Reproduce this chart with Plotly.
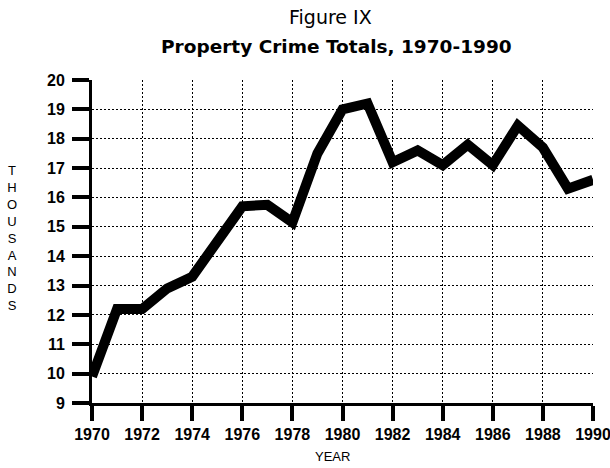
import plotly.graph_objs as go

years = list(range(1970, 1991))
totals = [9.9, 12.2, 12.2, 12.9, 13.3, 14.5, 15.7, 15.75, 15.15, 17.5, 19.0,
          19.2, 17.2, 17.6, 17.1, 17.8, 17.1, 18.45, 17.7, 16.3, 16.6]

x_ticks = list(range(1970, 1991, 2))
y_ticks = list(range(9, 21))

font = "Liberation Sans, Arial, sans-serif"
wide = "DejaVu Sans, Verdana, sans-serif"

fig = go.Figure(data=go.Scatter(x=years, y=totals, mode="lines",
                                line=dict(color="black", width=10),
                                hoverinfo="skip"))

fig.update_layout(
    width=610, height=468,
    margin=dict(l=92, r=17, t=80, b=65),
    paper_bgcolor="white", plot_bgcolor="white",
    showlegend=False,
    font=dict(family=font, color="black", size=13),
    annotations=[
        dict(text="Figure IX", x=0.476, y=1.0, xref="paper", yref="paper",
             xanchor="center", yanchor="middle", yshift=63, showarrow=False,
             font=dict(family=wide, size=19, color="black")),
        dict(text="<b>Property Crime Totals, 1970-1990</b>", x=0.489, y=1.0,
             xref="paper", yref="paper", xanchor="center", yanchor="middle",
             yshift=34, showarrow=False, font=dict(family=wide, size=18.5, color="black")),
        dict(text="T<br>H<br>O<br>U<br>S<br>A<br>N<br>D<br>S", x=0, y=0.5,
             xref="paper", yref="paper", xanchor="center", yanchor="middle",
             xshift=-80, yshift=4, showarrow=False,
             font=dict(family=font, size=13, color="black")),
        dict(text="YEAR", x=0.48, y=0, xref="paper", yref="paper",
             xanchor="center", yanchor="middle", yshift=-53, showarrow=False,
             font=dict(size=13, color="black")),
    ],
)

fig.update_xaxes(
    range=[1970, 1990], tickvals=x_ticks,
    ticktext=[f"<b>{t}</b>" for t in x_ticks],
    tickfont=dict(size=16), ticklabeloverflow="allow", automargin=False,
    showline=True, linecolor="black", linewidth=3,
    ticks="outside", ticklen=15, tickwidth=4, tickcolor="black",
    showgrid=True, gridcolor="black", gridwidth=1, griddash="2px,2px",
    zeroline=False, fixedrange=True,
)
fig.update_yaxes(
    range=[9, 20], tickvals=y_ticks,
    ticktext=[f"<b>{t}</b>" for t in y_ticks],
    tickfont=dict(size=16), ticklabelstandoff=4, automargin=False,
    showline=True, linecolor="black", linewidth=3,
    ticks="outside", ticklen=17, tickwidth=3.5, tickcolor="black",
    showgrid=True, gridcolor="black", gridwidth=1, griddash="2px,2px",
    zeroline=False, fixedrange=True,
)

fig.write_html("out.html", config={"displayModeBar": False},
               post_script="document.body.style.margin='0';")
